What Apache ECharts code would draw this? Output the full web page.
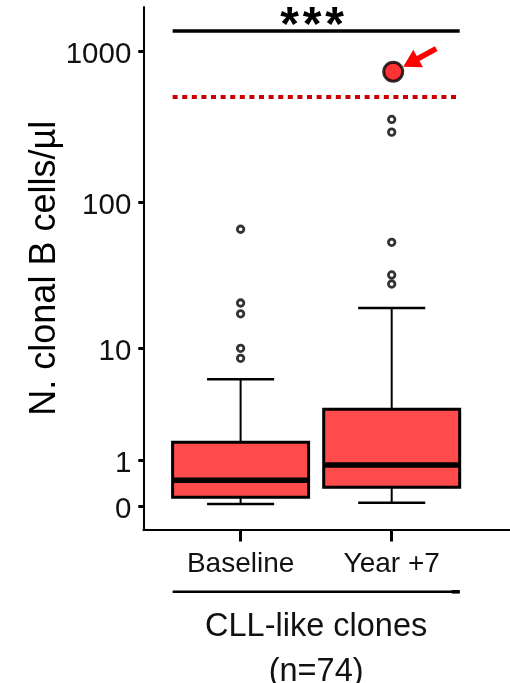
<!DOCTYPE html>
<html>
<head>
<meta charset="utf-8">
<script src="https://cdn.jsdelivr.net/npm/echarts@6/dist/echarts.min.js"></script>
<style>
html,body{margin:0;padding:0;background:#fff;}
#chart{width:510px;height:683px;}
</style>
</head>
<body>
<div id="chart"></div>
<script>
// ---- data ----
const categories = ['Baseline', 'Year +7'];
const boxMin = [0.03, 0.05];
const boxQ1 = [0.14, 0.33];
const boxMedian = [0.48, 0.86];
const boxQ3 = [1.63, 3.34];
const boxMax = [5.85, 19.2];
const outliersBaseline = [65.8, 20.8, 17.5, 9.96, 8.42];
const outliersYear7 = [353, 291, 53.8, 32.4, 28.1];
const highlightValue = [730];       // highlighted clone at Year +7
const thresholdValue = 500;         // dotted red line
const yTickLabels = [0, 1, 10, 100, 1000];
const significance = '*';
const significanceCount = 3;
const groupTitle = 'CLL-like clones';
const groupN = '(n=74)';

// ---- scale: log10(x + 1) ----
const tf = v => Math.log10(v + 1);
const tickPos = yTickLabels.map(tf);
const FONT = "'Liberation Sans', Arial, Helvetica, sans-serif";
const BOX_FILL = '#ff4b4b';

const boxData = categories.map((c, i) => [i + 1, tf(boxMin[i]), tf(boxQ1[i]), tf(boxMedian[i]), tf(boxQ3[i]), tf(boxMax[i])]);
const outlierData = [
  ...outliersBaseline.map(v => [1, tf(v)]),
  ...outliersYear7.map(v => [2, tf(v)])
];

const chart = echarts.init(document.getElementById('chart'), null, {renderer: 'canvas'});

const option = {
  animation: false,
  backgroundColor: '#fff',
  grid: {left: 143.3, right: 0, top: 7, bottom: 153.5, containLabel: false},
  xAxis: {
    type: 'value', min: 0.356, max: 2.783,
    splitLine: {show: false},
    axisLine: {show: true, onZero: false, lineStyle: {color: '#000', width: 2}},
    axisTick: {show: true, customValues: [1, 2], length: 12, lineStyle: {color: '#000', width: 3}},
    axisLabel: {customValues: [1, 2], formatter: v => categories[Math.round(v) - 1] || '',
      fontSize: 28, color: '#111', margin: 21, fontFamily: FONT}
  },
  yAxis: {
    type: 'value', min: -0.155, max: 3.2905,
    splitLine: {show: false},
    axisLine: {show: true, onZero: false, lineStyle: {color: '#000', width: 2}},
    axisTick: {show: true, customValues: tickPos, length: 5, lineStyle: {color: '#000', width: 3}},
    axisLabel: {customValues: tickPos,
      formatter: v => { const i = tickPos.findIndex(p => Math.abs(p - v) < 1e-6); return i >= 0 ? String(yTickLabels[i]) : ''; },
      fontSize: 29.5, color: '#111', margin: 12, fontFamily: FONT, verticalAlign: 'top', lineHeight: 8},
    name: 'N. clonal B cells/µl', nameLocation: 'middle', nameGap: 80, nameMoveOverlap: false,
    nameTextStyle: {fontSize: 36, color: '#000', fontFamily: FONT}
  },
  series: [
    {
      type: 'custom',
      data: boxData,
      z: 2,
      renderItem: function (params, api) {
        const x = api.value(0);
        const pMin = api.coord([x, api.value(1)]);
        const pQ1 = api.coord([x, api.value(2)]);
        const pMed = api.coord([x, api.value(3)]);
        const pQ3 = api.coord([x, api.value(4)]);
        const pMax = api.coord([x, api.value(5)]);
        const unit = api.size([1, 0])[0];
        const half = unit * 0.45;
        const capHalf = unit * 0.222;
        const cx = pMed[0];
        const black = '#000';
        return {
          type: 'group',
          children: [
            {type: 'line', shape: {x1: cx, y1: pQ1[1], x2: cx, y2: pMin[1]}, style: {stroke: black, lineWidth: 2}},
            {type: 'line', shape: {x1: cx, y1: pQ3[1], x2: cx, y2: pMax[1]}, style: {stroke: black, lineWidth: 2}},
            {type: 'line', shape: {x1: cx - capHalf, y1: pMin[1], x2: cx + capHalf, y2: pMin[1]}, style: {stroke: black, lineWidth: 2.5}},
            {type: 'line', shape: {x1: cx - capHalf, y1: pMax[1], x2: cx + capHalf, y2: pMax[1]}, style: {stroke: black, lineWidth: 2.5}},
            {type: 'rect', shape: {x: cx - half, y: pQ3[1], width: half * 2, height: pQ1[1] - pQ3[1]},
              style: {fill: BOX_FILL, stroke: black, lineWidth: 3}},
            {type: 'line', shape: {x1: cx - half, y1: pMed[1], x2: cx + half, y2: pMed[1]}, style: {stroke: black, lineWidth: 5.5}}
          ]
        };
      },
      markLine: {
        silent: true, symbol: 'none', animation: false,
        label: {show: false},
        data: [
          [{coord: [0.55, tf(thresholdValue)], lineStyle: {color: '#cc0000', width: 4, type: [5, 4.6]}},
           {coord: [2.45, tf(thresholdValue)]}],
          [{coord: [0.55, 3.132], lineStyle: {color: '#000', width: 3.5, type: 'solid'}},
           {coord: [2.45, 3.132]}]
        ]
      }
    },
    {
      type: 'scatter',
      data: outlierData,
      symbol: 'circle', symbolSize: 6.5,
      itemStyle: {color: 'rgba(255,255,255,0)', borderColor: '#000', borderWidth: 2.8},
      z: 3
    },
    {
      type: 'scatter',
      data: highlightValue.map(v => [2.01, tf(v)]),
      symbol: 'circle', symbolSize: 19,
      itemStyle: {color: '#ff0000', borderColor: '#000', borderWidth: 3},
      z: 4
    }
  ]
};
chart.setOption(option);

// ---- annotations placed through the chart's own coordinate conversion ----
function px(x, y) { return chart.convertToPixel({gridIndex: 0}, [x, y]); }
const sigL = px(0.55, 3.132), sigR = px(2.45, 3.132);
const hp = px(2.01, tf(highlightValue[0]));
const left = px(0.55, 0)[0], right = px(2.45, 0)[0];

// arrow pointing at highlighted point
const tip = [hp[0] + 10, hp[1] - 5];
const tail = [hp[0] + 43, hp[1] - 23];
const dx = tip[0] - tail[0], dy = tip[1] - tail[1];
const L = Math.hypot(dx, dy), ux = dx / L, uy = dy / L;
const headLen = 17, headHalf = 10;
const base = [tip[0] - ux * headLen, tip[1] - uy * headLen];
const perp = [-uy, ux];

const sigCenter = (sigL[0] + sigR[0]) / 2 - 4;
const stars = [];
for (let k = 0; k < significanceCount; k++) {
  stars.push({type: 'text', style: {text: significance, x: sigCenter + (k - (significanceCount - 1) / 2) * 22.5, y: 27,
    font: 'bold 48px ' + FONT, fill: '#000', align: 'center', verticalAlign: 'middle'}, silent: true});
}

chart.setOption({
  graphic: stars.concat([
    {type: 'polygon', shape: {points: [tip, [base[0] + perp[0] * headHalf, base[1] + perp[1] * headHalf],
      [base[0] - perp[0] * headHalf, base[1] - perp[1] * headHalf]]}, style: {fill: '#ff0000'}, silent: true},
    {type: 'line', shape: {x1: base[0] + ux * 2, y1: base[1] + uy * 2, x2: tail[0], y2: tail[1]},
      style: {stroke: '#ff0000', lineWidth: 5.5}, silent: true},
    {type: 'line', shape: {x1: left, y1: 591.7, x2: right, y2: 591.7}, style: {stroke: '#000', lineWidth: 2.5}, silent: true},
    {type: 'rect', shape: {x: right - 8, y: 590, width: 8, height: 3.6}, style: {fill: '#000'}, silent: true},
    {type: 'text', style: {text: groupTitle, x: (left + right) / 2, y: 627, font: '32.5px ' + FONT, fill: '#111',
      align: 'center', verticalAlign: 'middle'}, silent: true},
    {type: 'text', style: {text: groupN, x: (left + right) / 2, y: 672, font: '32.5px ' + FONT, fill: '#111',
      align: 'center', verticalAlign: 'middle'}, silent: true}
  ])
});
</script>
</body>
</html>
